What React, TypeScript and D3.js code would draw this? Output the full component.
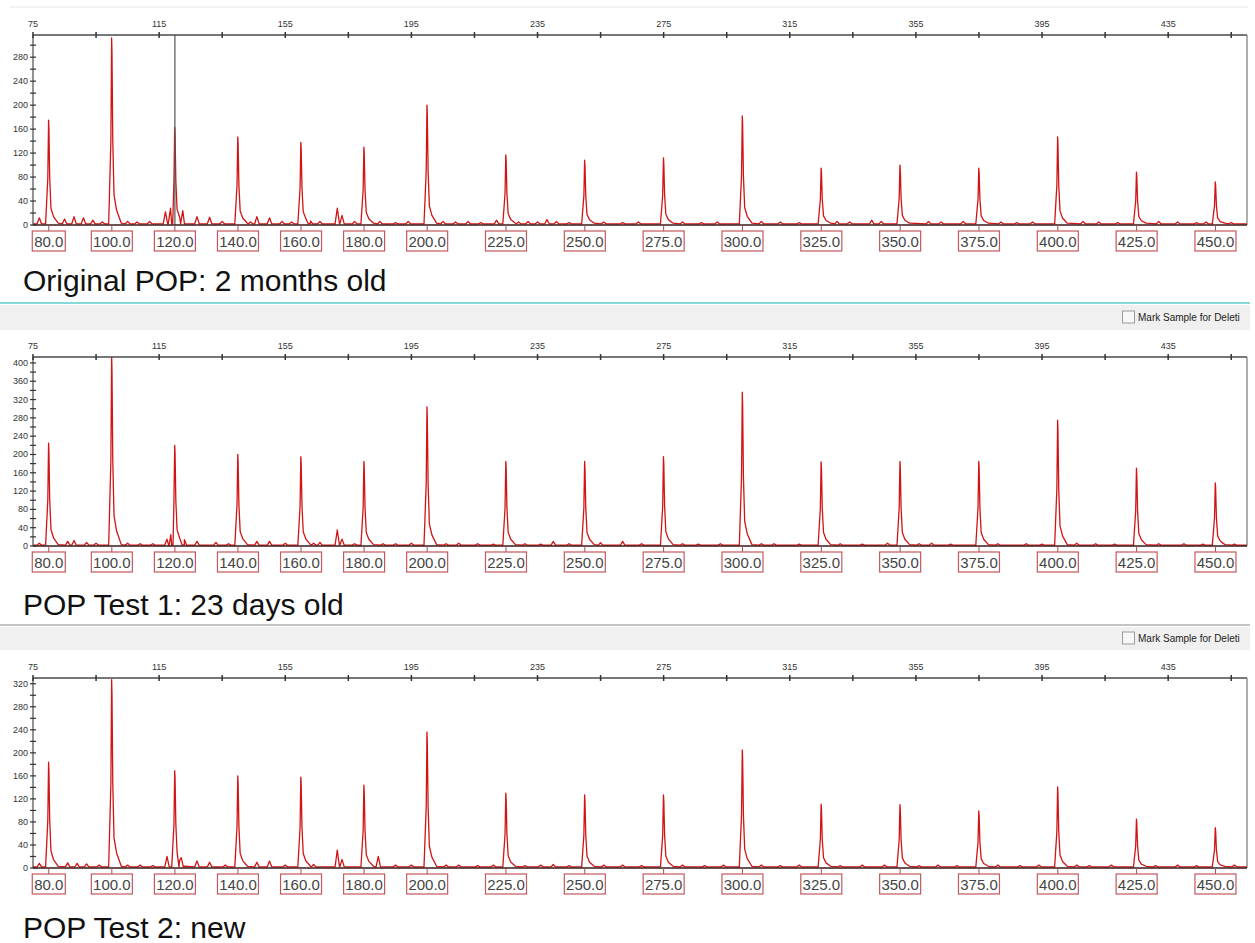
import { useEffect, useRef } from 'react';
import * as d3 from 'd3';

// size standard fragments (bp)
const SIZES = [80, 100, 120, 140, 160, 180, 200, 225, 250, 275, 300, 325, 350, 375, 400, 425, 450];

// peak heights (RFU)
const ORIGINAL_POP = [175, 312, 163, 147, 138, 130, 200, 117, 108, 112, 182, 95, 100, 95, 147, 88, 72];
const POP_TEST_1 = [225, 415, 220, 200, 195, 185, 304, 185, 185, 195, 336, 184, 185, 185, 275, 170, 138];
const POP_TEST_2 = [184, 327, 169, 160, 158, 144, 236, 130, 127, 127, 205, 111, 110, 99, 141, 85, 70];

// small background bumps [bp, height]
const BUMPS_ORIGINAL: [number, number][] = [
  [77, 12], [85, 10], [88, 14], [91, 12], [94, 8], [97, 5], [105, 6], [108, 5], [112, 6], [117, 22],
  [118.6, 28], [122.5, 24], [127, 14], [131, 13], [135, 6], [144, 5], [146, 14], [150, 12], [154, 6],
  [157, 5], [163, 7], [166, 6], [171.5, 28], [173, 16], [177, 6], [185, 6], [190, 4], [194, 6], [205, 6],
  [209, 5], [213, 6], [217, 4], [222, 8], [229, 5], [232, 6], [235, 5], [238, 9], [241, 6], [245, 4],
  [256, 5], [262, 4], [267, 5], [281, 5], [287, 4], [292, 5], [306, 6], [312, 5], [318, 4], [330, 6],
  [334, 5], [341, 8], [344, 6], [359, 6], [363, 5], [370, 6], [382, 5], [387, 4], [392, 5], [408, 6],
  [413, 5], [419, 4], [432, 6], [438, 5], [444, 4], [447, 5], [455, 4]
];
const BUMPS_TEST_1: [number, number][] = [
  [77, 6], [86, 10], [88, 12], [92, 8], [95, 6], [105, 6], [109, 5], [113, 5], [117.5, 15], [118.7, 25],
  [123, 14], [127, 10], [133, 8], [137, 5], [146, 10], [150, 10], [155, 6], [164, 6], [166, 8],
  [171.5, 35], [173, 15], [177, 5], [186, 5], [190, 5], [195, 6], [206, 5], [210, 6], [216, 5], [221, 4],
  [231, 5], [236, 4], [240, 10], [245, 5], [255, 7], [262, 10], [268, 5], [281, 5], [286, 4], [293, 5],
  [306, 5], [310, 5], [318, 4], [331, 5], [338, 4], [346, 6], [356, 5], [360, 6], [366, 4], [381, 5],
  [390, 5], [395, 4], [406, 6], [412, 5], [418, 4], [432, 5], [440, 5], [446, 4], [456, 4]
];
const BUMPS_TEST_2: [number, number][] = [
  [77, 8], [86, 9], [89, 8], [92, 7], [96, 5], [105, 5], [109, 5], [113, 4], [117.5, 20], [122, 18],
  [127, 12], [131, 10], [136, 5], [146, 10], [150, 12], [155, 5], [164, 6], [171.5, 31], [173, 15],
  [184.5, 20], [190, 5], [195, 5], [206, 5], [210, 5], [216, 4], [221, 5], [231, 4], [236, 5], [240, 6],
  [245, 4], [256, 5], [262, 5], [268, 4], [281, 5], [288, 4], [294, 5], [306, 5], [312, 4], [318, 5],
  [331, 4], [338, 5], [345, 5], [356, 4], [362, 5], [368, 4], [381, 5], [388, 4], [394, 5], [406, 5],
  [410, 4], [417, 5], [431, 4], [438, 5], [444, 4], [456, 5]
];

const TOP_TICKS = d3.range(75, 456, 20);
const TOP_LABELS = d3.range(75, 436, 40);

const TITLES = ['Original POP: 2 months old', 'POP Test 1: 23 days old', 'POP Test 2: new'];

const RED = '#d11414';

export default function App() {
  const svgRef = useRef<SVGSVGElement>(null);

  useEffect(() => {
    if (!svgRef.current) return;
    const W = 1255, H = 943;
    const svg = d3.select(svgRef.current).attr('width', W).attr('height', H);
    svg.selectAll('*').remove();
    svg.append('rect').attr('width', W).attr('height', H).attr('fill', '#fff');

    const x = d3.scaleLinear().domain([75, 460]).range([33, 1247]);

    const panels = [
      { heights: ORIGINAL_POP, bumps: BUMPS_ORIGINAL, top: 35, zero: 225, max: 317, labelMax: 280, titleY: 291, cursor: 120 },
      { heights: POP_TEST_1, bumps: BUMPS_TEST_1, top: 357, zero: 546, max: 413, labelMax: 400, titleY: 615, cursor: null },
      { heights: POP_TEST_2, bumps: BUMPS_TEST_2, top: 678, zero: 868, max: 330, labelMax: 320, titleY: 938, cursor: null },
    ];

    // faint top rule
    svg.append('line').attr('x1', 10).attr('x2', 1248).attr('y1', 7).attr('y2', 7)
      .attr('stroke', '#e6e6e6').attr('stroke-width', 1);

    // separators with "Mark Sample" bars
    const bars = [
      { line: 303, color: '#86d9d9', top: 305, bottom: 330 },
      { line: 625, color: '#c4c4c4', top: 627, bottom: 650 },
    ];
    bars.forEach(b => {
      svg.append('rect').attr('x', 0).attr('y', b.top).attr('width', 1250).attr('height', b.bottom - b.top)
        .attr('fill', '#f0f0f0');
      svg.append('line').attr('x1', 0).attr('x2', 1250).attr('y1', b.line).attr('y2', b.line)
        .attr('stroke', b.color).attr('stroke-width', 2);
      const cy = (b.top + b.bottom) / 2;
      svg.append('rect').attr('x', 1122.5).attr('y', cy - 6.5).attr('width', 12).attr('height', 12)
        .attr('fill', '#f7f7f7').attr('stroke', '#9a9a9a');
      svg.append('text').attr('x', 1138).attr('y', cy + 3.5).text('Mark Sample for Deleti')
        .style('font-family', 'Liberation Sans, Arial, sans-serif').style('font-size', '10px').style('fill', '#222');
    });

    panels.forEach((p, pi) => {
      const y = d3.scaleLinear().domain([0, p.max]).range([p.zero, p.top]);
      const g = svg.append('g');
      const clipId = `clip-${pi}`;
      svg.append('defs').append('clipPath').attr('id', clipId)
        .append('rect').attr('x', 33).attr('y', p.top).attr('width', 1214).attr('height', p.zero - p.top + 1);

      // build trace points from peaks and bumps
      const pts: [number, number][] = [[75, 2], [460, 2]];
      SIZES.forEach((s, i) => {
        const h = p.heights[i];
        pts.push([s - 1.0, 2], [s - 0.3, h * 0.45], [s - 0.06, h], [s + 0.05, h * 0.92],
          [s + 0.3, h * 0.45], [s + 0.7, h * 0.16], [s + 1.5, h * 0.08], [s + 3.0, 3]);
      });
      p.bumps.forEach(([s, h]) => {
        pts.push([s - 0.7, 2], [s, h], [s + 0.7, 2]);
      });
      pts.sort((a, b) => a[0] - b[0]);

      const line = d3.line<[number, number]>().x(d => x(d[0])).y(d => y(d[1]));

      const plot = g.append('g').attr('clip-path', `url(#${clipId})`);
      plot.append('path').attr('d', line(pts) as string)
        .attr('fill', 'none').attr('stroke', RED).attr('stroke-width', 1.3).attr('stroke-linejoin', 'round');

      if (p.cursor !== null) {
        g.append('line').attr('x1', x(p.cursor)).attr('x2', x(p.cursor)).attr('y1', p.top).attr('y2', p.zero)
          .attr('stroke', '#555').attr('stroke-width', 1.2);
      }

      // frame
      const axisColor = '#4a4a4a';
      g.append('line').attr('x1', 33).attr('x2', 1247).attr('y1', p.top).attr('y2', p.top)
        .attr('stroke', axisColor).attr('stroke-width', 1.5);
      g.append('line').attr('x1', 33).attr('x2', 33).attr('y1', p.top).attr('y2', p.zero)
        .attr('stroke', axisColor).attr('stroke-width', 1.2);
      g.append('line').attr('x1', 1247).attr('x2', 1247).attr('y1', p.top).attr('y2', p.zero)
        .attr('stroke', '#777').attr('stroke-width', 1.2);
      g.append('line').attr('x1', 33).attr('x2', 1247).attr('y1', p.zero).attr('y2', p.zero)
        .attr('stroke', '#3a1a1a').attr('stroke-width', 1.3);

      // top axis ticks
      g.selectAll('.tt').data(TOP_TICKS).enter().append('line')
        .attr('x1', d => x(d)).attr('x2', d => x(d)).attr('y1', p.top - 3).attr('y2', p.top + 3)
        .attr('stroke', '#333').attr('stroke-width', 1.5);
      g.selectAll('.tl').data(TOP_LABELS).enter().append('text')
        .attr('x', d => x(d)).attr('y', p.top - 8).attr('text-anchor', 'middle').text(d => d)
        .style('font-family', 'Liberation Sans, Arial, sans-serif').style('font-size', '9px').style('fill', '#333');

      // left axis ticks
      const yTicks = d3.range(0, p.max + 1, 20);
      g.selectAll('.yt').data(yTicks).enter().append('line')
        .attr('x1', 30).attr('x2', 36).attr('y1', d => y(d)).attr('y2', d => y(d))
        .attr('stroke', '#333').attr('stroke-width', 1.2);
      g.selectAll('.yl').data(d3.range(0, p.labelMax + 1, 40)).enter().append('text')
        .attr('x', 28).attr('y', d => y(d) + 3).attr('text-anchor', 'end').text(d => d)
        .style('font-family', 'Liberation Sans, Arial, sans-serif').style('font-size', '9px').style('fill', '#333');

      // size labels
      const lab = g.selectAll('.sz').data(SIZES).enter().append('g')
        .attr('transform', d => `translate(${x(d)},${p.zero})`);
      lab.append('line').attr('y1', 0).attr('y2', 6).attr('stroke', '#a05050').attr('stroke-width', 1);
      lab.append('rect')
        .attr('x', d => (d < 100 ? -16.5 : -20.5)).attr('y', 6)
        .attr('width', d => (d < 100 ? 33 : 41)).attr('height', 20)
        .attr('fill', '#fff').attr('stroke', '#c4585c').attr('stroke-width', 1.2);
      lab.append('text').attr('y', 22).attr('text-anchor', 'middle').text(d => d.toFixed(1))
        .style('font-family', 'Liberation Sans, Arial, sans-serif').style('font-size', '15px').style('fill', '#444');

      // title
      svg.append('text').attr('x', 23).attr('y', p.titleY).text(TITLES[pi])
        .style('font-family', 'Liberation Sans, Arial, sans-serif').style('font-size', '30px').style('fill', '#111');
    });
  }, []);

  return (
    <div style={{ position: 'absolute', left: 0, top: 0 }}>
      <svg ref={svgRef} style={{ display: 'block' }} />
    </div>
  );
}
